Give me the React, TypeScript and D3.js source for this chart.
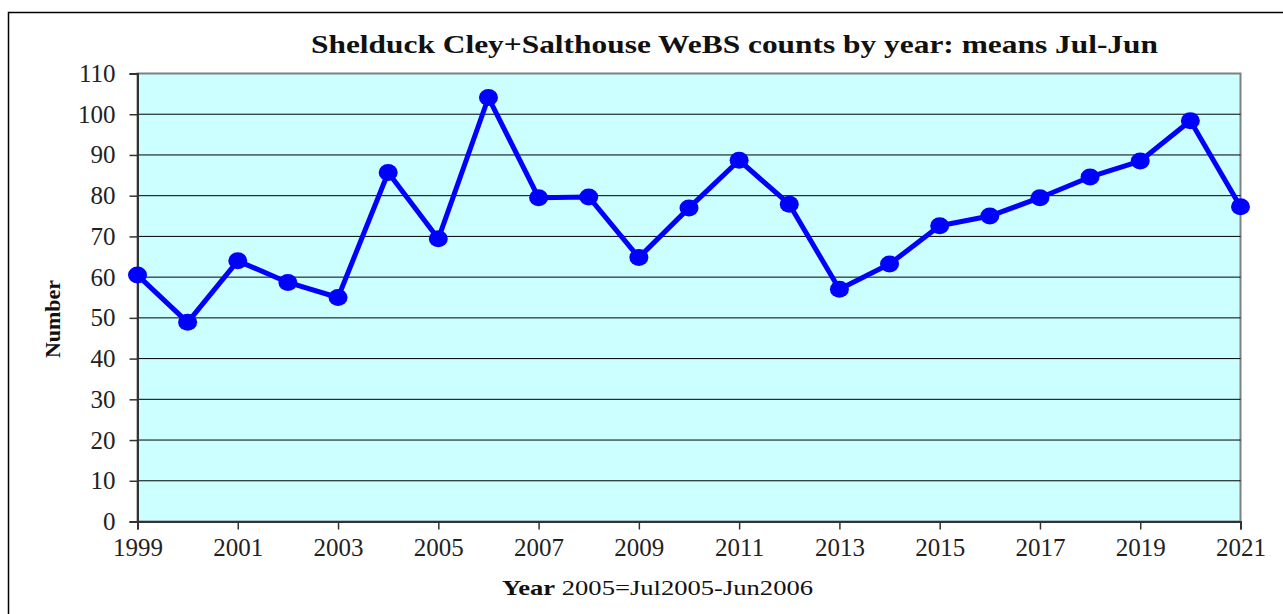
import { useRef, useEffect } from "react";
import * as d3 from "d3";

const years = [
  1999, 2000, 2001, 2002, 2003, 2004, 2005, 2006, 2007, 2008, 2009, 2010,
  2011, 2012, 2013, 2014, 2015, 2016, 2017, 2018, 2019, 2020, 2021,
];
const means = [
  60.5, 48.9, 64.0, 58.7, 55.0, 85.7, 69.4, 104.1, 79.5, 79.7, 64.8, 77.0,
  88.7, 77.9, 57.0, 63.2, 72.6, 75.0, 79.5, 84.6, 88.5, 98.4, 77.3,
];
const yTicks = [0, 10, 20, 30, 40, 50, 60, 70, 80, 90, 100, 110];
const xTicks = [1999, 2001, 2003, 2005, 2007, 2009, 2011, 2013, 2015, 2017, 2019, 2021];

const title = "Shelduck Cley+Salthouse WeBS counts by year: means Jul-Jun";

const W = 1283;
const H = 614;
const plot = { left: 137.5, right: 1240.5, top: 73.5, bottom: 521.5 };
const serif = "'Liberation Serif', 'Times New Roman', serif";

export default function App() {
  const svgRef = useRef<SVGSVGElement>(null);

  useEffect(() => {
    const svg = d3.select(svgRef.current);
    svg.selectAll("*").remove();

    const x = d3.scaleLinear().domain([1999, 2021]).range([plot.left, plot.right]);
    const y = d3.scaleLinear().domain([0, 110]).range([plot.bottom, plot.top]);

    // outer frame
    svg.append("rect")
      .attr("x", 8.5).attr("y", 12.5)
      .attr("width", 1400).attr("height", 800)
      .attr("fill", "#fff").attr("stroke", "#000").attr("stroke-width", 1.5);

    // plot background
    svg.append("rect")
      .attr("x", plot.left).attr("y", plot.top)
      .attr("width", plot.right - plot.left).attr("height", plot.bottom - plot.top)
      .attr("fill", "#CCFFFF")
      .attr("stroke", "#808080").attr("stroke-width", 2);

    // gridlines
    svg.append("g").selectAll("line")
      .data(yTicks.filter((d) => d > 0 && d < 110))
      .enter().append("line")
      .attr("x1", plot.left).attr("x2", plot.right)
      .attr("y1", (d) => y(d)).attr("y2", (d) => y(d))
      .attr("stroke", "#000").attr("stroke-width", 1);

    // axes
    const yAxis = svg.append("g")
      .attr("transform", `translate(${plot.left},0)`)
      .call(d3.axisLeft(y).tickValues(yTicks).tickSize(8).tickPadding(14));
    yAxis.select(".domain").attr("stroke", "#333").attr("stroke-width", 2);
    yAxis.selectAll("line").attr("stroke", "#333").attr("stroke-width", 1.5);
    yAxis.selectAll("text")
      .style("font-family", serif).style("font-size", "25px").attr("fill", "#222");

    const xAxis = svg.append("g")
      .attr("transform", `translate(0,${plot.bottom})`)
      .call(d3.axisBottom(x).tickValues(xTicks).tickFormat(d3.format("d")).tickSize(8));
    xAxis.select(".domain").attr("stroke", "#333").attr("stroke-width", 2);
    xAxis.selectAll("line").attr("stroke", "#333").attr("stroke-width", 1.5);
    xAxis.selectAll("text")
      .attr("y", 34).attr("dy", 0)
      .style("font-family", serif).style("font-size", "25px").attr("fill", "#222");

    // series
    const pts = years.map((yr, i) => ({ yr, v: means[i] }));
    const line = d3.line<{ yr: number; v: number }>()
      .x((d) => x(d.yr))
      .y((d) => y(d.v));
    svg.append("path")
      .datum(pts)
      .attr("d", line)
      .attr("fill", "none")
      .attr("stroke", "#0000FF")
      .attr("stroke-width", 5)
      .attr("stroke-linejoin", "round");
    svg.append("g").selectAll("ellipse")
      .data(pts)
      .enter().append("ellipse")
      .attr("cx", (d) => x(d.yr)).attr("cy", (d) => y(d.v))
      .attr("rx", 9.5).attr("ry", 8.5)
      .attr("fill", "#0000FF");

    // title
    svg.append("text")
      .attr("x", 311).attr("y", 53)
      .attr("textLength", 847).attr("lengthAdjust", "spacingAndGlyphs")
      .style("font-family", serif).style("font-weight", "bold").style("font-size", "25px")
      .attr("fill", "#111")
      .text(title);

    // y label
    svg.append("text")
      .attr("transform", "translate(60,319) rotate(-90)")
      .attr("text-anchor", "middle")
      .attr("textLength", 78).attr("lengthAdjust", "spacingAndGlyphs")
      .style("font-family", serif).style("font-weight", "bold").style("font-size", "22px")
      .attr("fill", "#111")
      .text("Number");

    // x label
    const xl = svg.append("text")
      .attr("x", 502).attr("y", 595)
      .attr("textLength", 311).attr("lengthAdjust", "spacingAndGlyphs")
      .style("font-family", serif).style("font-size", "22px").attr("fill", "#111");
    xl.append("tspan").style("font-weight", "bold").text("Year");
    xl.append("tspan").text(" 2005=Jul2005-Jun2006");
  }, []);

  return (
    <svg
      ref={svgRef}
      width={W}
      height={H}
      style={{ position: "absolute", left: 0, top: 0 }}
    />
  );
}
